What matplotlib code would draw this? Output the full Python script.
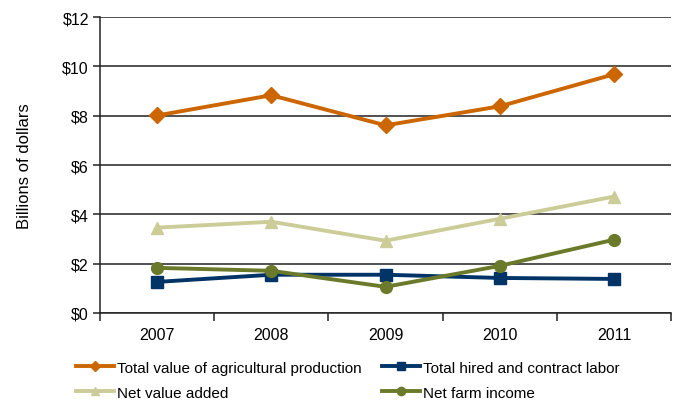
import matplotlib
matplotlib.use("Agg")
import matplotlib.pyplot as plt
from matplotlib.ticker import FixedLocator, FuncFormatter

years = ["2007", "2008", "2009", "2010", "2011"]
total_production = [8.01, 8.83, 7.61, 8.38, 9.68]
hired_labor = [1.26, 1.55, 1.55, 1.42, 1.38]
net_value_added = [3.46, 3.70, 2.93, 3.82, 4.72]
net_farm_income = [1.83, 1.71, 1.06, 1.91, 2.97]

plt.rcParams["font.family"] = ["Liberation Sans", "DejaVu Sans"]

fig = plt.figure(figsize=(6.78, 4.02), dpi=100)
ax = fig.add_axes([0.1475, 0.219, 0.8422, 0.736])

x = list(range(len(years)))
series = [
    (total_production, "Total value of agricultural production", "#CC6600", "D", 8),
    (hired_labor, "Total hired and contract labor", "#003366", "s", 8.5),
    (net_value_added, "Net value added", "#CCCC99", "^", 9),
    (net_farm_income, "Net farm income", "#6B7A2A", "o", 8.5),
]
handles = []
for vals, label, color, marker, ms in series:
    h, = ax.plot(x, vals, color=color, lw=2.8, marker=marker, ms=ms,
                 label=label, zorder=3)
    handles.append(h)

ax.set_xlim(-0.5, len(years) - 0.5)
ax.set_ylim(0, 12)
ax.set_yticks(range(0, 13, 2))
ax.yaxis.set_major_formatter(FuncFormatter(lambda v, p: f"${int(v)}"))
ax.yaxis.grid(True, color="#222222", lw=1.1)
ax.set_axisbelow(True)

# category labels centred, tick marks between categories
ax.xaxis.set_major_locator(FixedLocator([i - 0.5 for i in range(len(years) + 1)]))
ax.xaxis.set_minor_locator(FixedLocator(x))
ax.xaxis.set_major_formatter(FuncFormatter(lambda v, p: ""))
ax.set_xticklabels(years, minor=True)
ax.tick_params(axis="x", which="major", length=6, width=1.1, color="#222222")
ax.tick_params(axis="x", which="minor", length=0, pad=10, labelsize=11.5)
ax.tick_params(axis="y", length=5, width=1.1, color="#222222", labelsize=11.5, pad=3)

for side in ["top", "right"]:
    ax.spines[side].set_visible(False)
for side in ["left", "bottom"]:
    ax.spines[side].set_color("#222222")
    ax.spines[side].set_linewidth(1.1)

ax.set_ylabel("Billions of dollars", fontsize=12, labelpad=22)

# legend fills column-wise, so order the handles to read across rows
order = [0, 2, 1, 3]
fig.legend(handles=[handles[i] for i in order], loc="upper left",
           bbox_to_anchor=(76 / 678, 0.10), ncol=2, frameon=False, fontsize=11,
           handlelength=2.5, handletextpad=0.2, columnspacing=1.3,
           labelspacing=0.72, borderaxespad=0, borderpad=0, markerscale=0.7)

fig.savefig("out.png", dpi=100)
